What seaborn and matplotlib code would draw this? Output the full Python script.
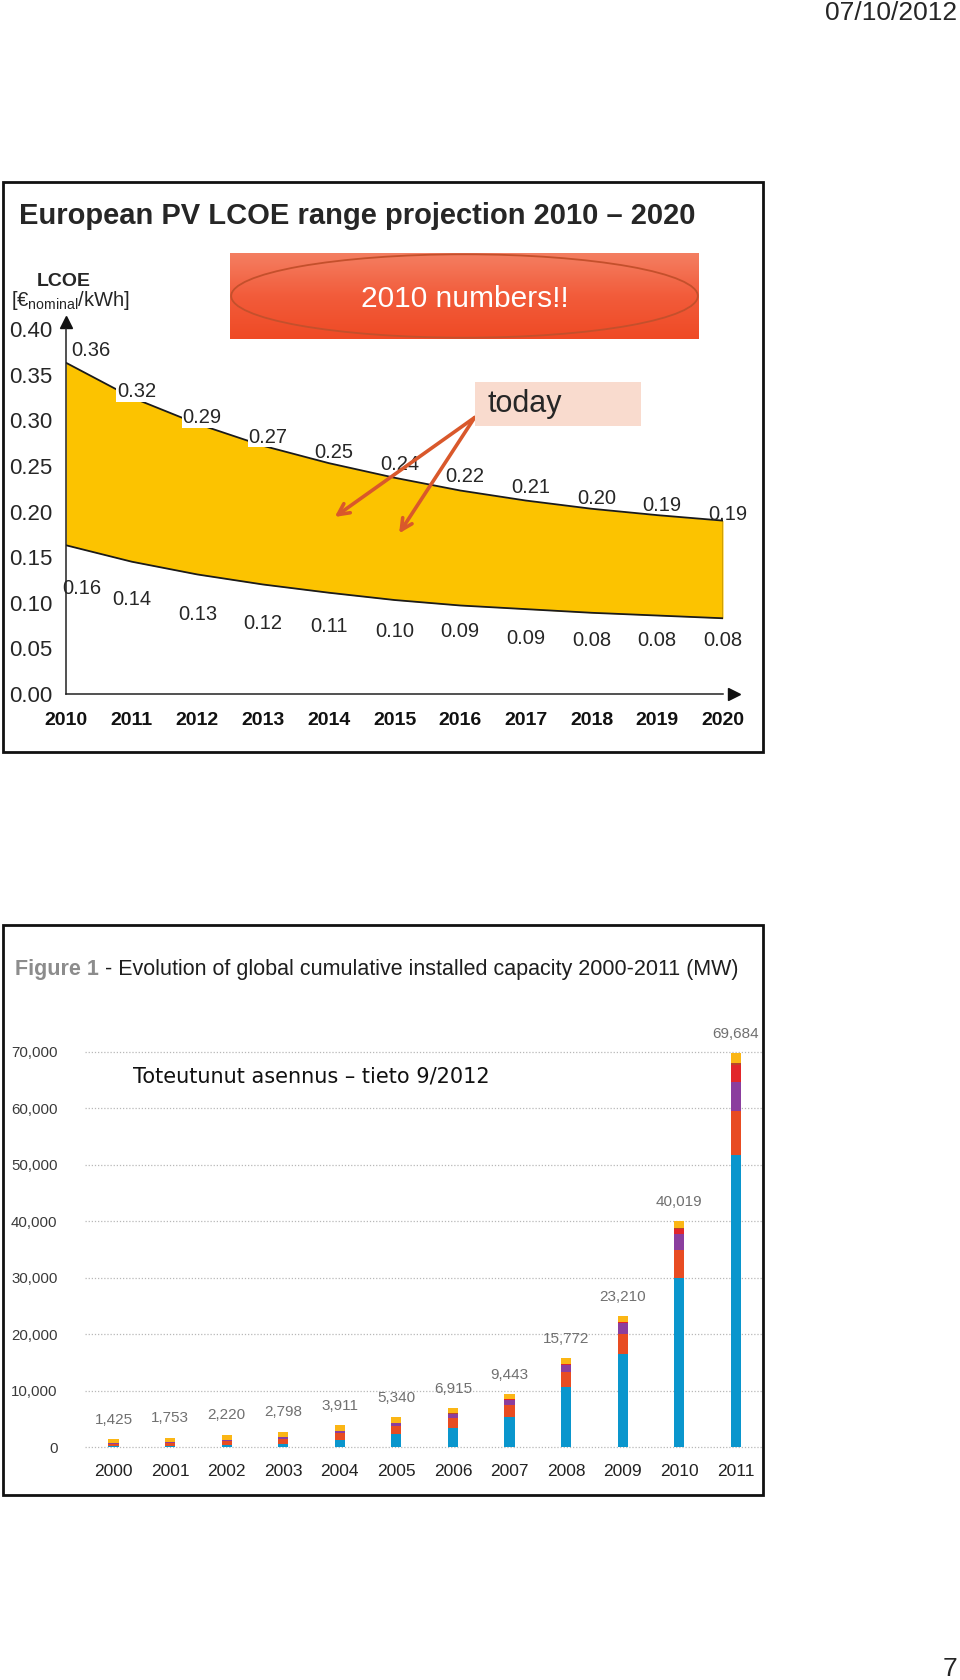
import numpy as np
import pandas as pd
import seaborn as sns
import matplotlib.pyplot as plt
from matplotlib.patches import Rectangle, Ellipse
from matplotlib.colors import LinearSegmentedColormap

# top chart: LCOE range (EUR nominal / kWh)
years = list(range(2010, 2021))
lcoe_high = [0.363, 0.325, 0.296, 0.272, 0.253, 0.237, 0.223, 0.212, 0.203, 0.196, 0.190]
lcoe_low = [0.163, 0.145, 0.131, 0.120, 0.111, 0.103, 0.097, 0.093, 0.089, 0.086, 0.083]
high_labels = ["0.36", "0.32", "0.29", "0.27", "0.25", "0.24", "0.22", "0.21", "0.20", "0.19", "0.19"]
low_labels = ["0.16", "0.14", "0.13", "0.12", "0.11", "0.10", "0.09", "0.09", "0.08", "0.08", "0.08"]
lcoe_ticks = [0.00, 0.05, 0.10, 0.15, 0.20, 0.25, 0.30, 0.35, 0.40]

# label offsets in points (placement only)
high_dy = [8.5, 4, 4.6, 6.2, 7.7, 9.3, 10, 9.3, 7.7, 7, 4.6]
low_dy = [-31, -27, -29, -28, -24, -23, -19, -21, -20, -18, -16]

# bottom chart: global cumulative installed capacity (MW)
cap_years = [str(y) for y in range(2000, 2012)]
europe = [180, 265, 400, 600, 1300, 2300, 3370, 5330, 10770, 16600, 29950, 51716]
apac = [400, 480, 660, 900, 1180, 1450, 1840, 2130, 2600, 3400, 5020, 7765]
americas = [150, 180, 230, 290, 380, 580, 710, 940, 1230, 1950, 2830, 5053]
china = [20, 25, 40, 50, 60, 70, 80, 100, 150, 300, 893, 3093]
mea = [5, 5, 10, 10, 10, 10, 15, 20, 20, 20, 30, 405]
row = [670, 798, 880, 948, 981, 930, 900, 923, 1002, 940, 1296, 1652]
cap_ticks = [0, 10000, 20000, 30000, 40000, 50000, 60000, 70000]

segments = ["Europe", "APAC", "Americas", "China", "MEA", "ROW"]
seg_colors = ["#0a96cd", "#e84c22", "#8b3e9e", "#e2262b", "#b8452a", "#fbb615"]

sns.set_style("white")
plt.rcParams['font.family'] = ['Liberation Sans', 'DejaVu Sans']
plt.rcParams['mathtext.fontset'] = 'custom'
plt.rcParams['mathtext.rm'] = 'Liberation Sans'

W, H = 960, 1680
fig = plt.figure(figsize=(W / 100, H / 100), dpi=100)


def fig_box(x0, y0, x1, y1):
    # pixel box (from top left) -> figure fractions
    return [x0 / W, 1 - y1 / H, (x1 - x0) / W, (y1 - y0) / H]


def frame(x0, y0, x1, y1):
    fig.patches.append(Rectangle((x0 / W, 1 - y1 / H), (x1 - x0) / W, (y1 - y0) / H,
                                 transform=fig.transFigure, fill=False, ec='#111111', lw=2))


# page header / footer
fig.text(957 / W, 1 - 13 / H, "07/10/2012", ha='right', va='center', fontsize=19)
fig.text(957 / W, 1 - 1669 / H, "7", ha='right', va='center', fontsize=19)

# ---------------- top panel ----------------
frame(3, 182, 763, 752)
fig.text(19 / W, 1 - 216 / H, "European PV LCOE range projection 2010 \u2013 2020",
         ha='left', va='center', fontsize=21, fontweight='bold')
fig.text(64 / W, 1 - 281 / H, "LCOE", ha='center', va='center', fontsize=14, fontweight='bold')
fig.text(11 / W, 1 - 301 / H, "[\u20ac$_{\\rm nominal}$/kWh]", ha='left', va='center', fontsize=14.5)

ax = fig.add_axes(fig_box(66, 329, 723, 694))
ax.fill_between(years, lcoe_low, lcoe_high, color='#fcc300', lw=0)
sns.lineplot(x=years, y=lcoe_high, color='#1a1a1a', lw=1.3, ax=ax)
sns.lineplot(x=years, y=lcoe_low, color='#1a1a1a', lw=1.3, ax=ax)
ax.vlines(years[-1], lcoe_low[-1], lcoe_high[-1], color='#1a1a1a', lw=1.0)
ax.set_xlim(years[0], years[-1])
ax.set_ylim(0, 0.40)
ax.set_xticks(years)
ax.set_xticklabels([str(y) for y in years], fontweight='bold', fontsize=14)
ax.set_yticks(lcoe_ticks)
ax.set_yticklabels([f"{t:.2f}" for t in lcoe_ticks], fontsize=16)
ax.tick_params(axis='x', length=6, width=1, direction='out', pad=7, colors='#111111')
ax.tick_params(axis='y', length=0, pad=10)
for s in ['top', 'right']:
    ax.spines[s].set_visible(False)
for s in ['left', 'bottom']:
    ax.spines[s].set_color('#222222')
    ax.spines[s].set_linewidth(1.1)
ax.plot(1.017, 0, '>', color='#111111', ms=9, transform=ax.transAxes, clip_on=False)
ax.plot(0, 1.02, '^', color='#111111', ms=9, transform=ax.transAxes, clip_on=False)

for i, (yr, v, lab) in enumerate(zip(years, lcoe_high, high_labels)):
    dx = 18 if i == 0 else 3.5
    box = dict(facecolor='white', edgecolor='none', pad=0.5) if i in (1, 2, 3) else None
    ax.annotate(lab, (yr, v), xytext=(dx, high_dy[i]), textcoords='offset points',
                ha='center', va='center', fontsize=14.5, bbox=box, annotation_clip=False)
for i, (yr, v, lab) in enumerate(zip(years, lcoe_low, low_labels)):
    if i == 0:
        ax.annotate(lab, (yr, v), xytext=(-3, low_dy[i]), textcoords='offset points',
                    ha='left', va='center', fontsize=14.5)
    else:
        ax.annotate(lab, (yr, v), xytext=(0, low_dy[i]), textcoords='offset points',
                    ha='center', va='center', fontsize=14.5, annotation_clip=False)

# "today" arrows
for tip in [(2014.09, 0.194), (2015.07, 0.176)]:
    ax.annotate('', xy=tip, xytext=(2016.22, 0.303),
                arrowprops=dict(arrowstyle='->', color='#d9582b', lw=2.6,
                                shrinkA=0, shrinkB=0, mutation_scale=20))

# "2010 numbers!!" banner
gax = fig.add_axes(fig_box(230, 253, 699, 339))
grad = LinearSegmentedColormap.from_list('banner', ['#f47f62', '#f25c3b', '#ef4a25'])
gax.imshow(np.linspace(0, 1, 64).reshape(-1, 1), aspect='auto', cmap=grad, extent=(0, 1, 0, 1))
gax.add_patch(Ellipse((0.5, 0.5), 0.995, 0.97, transform=gax.transAxes, fill=False,
                      ec='#c4502c', lw=1.3))
gax.text(0.5, 0.47, "2010 numbers!!", color='white', ha='center', va='center',
         fontsize=21.5, transform=gax.transAxes)
gax.axis('off')

# "today" box
fig.patches.append(Rectangle((475 / W, 1 - 426 / H), 166 / W, 44 / H,
                             transform=fig.transFigure, fc='#f9dbce', ec='none'))
fig.text(487 / W, 1 - 404 / H, "today", ha='left', va='center', fontsize=22)

# ---------------- bottom panel ----------------
frame(3, 925, 763, 1495)

ax2 = fig.add_axes(fig_box(85.3, 1045.9, 764, 1450.3))
df = pd.DataFrame({"year": cap_years, "Europe": europe, "APAC": apac, "Americas": americas,
                   "China": china, "MEA": mea, "ROW": row})
cum = df[segments].cumsum(axis=1)
totals = cum["ROW"]
# stacked bars: draw cumulative sums from the top segment down
for seg, col in reversed(list(zip(segments, seg_colors))):
    sns.barplot(x=df["year"], y=cum[seg], color=col, width=0.18, saturation=1,
                errorbar=None, linewidth=0, ax=ax2)
ax2.set_xlim(-0.5, len(cap_years) - 0.5)
ax2.set_ylim(-500, 71000)
ax2.set_yticks(cap_ticks)
ax2.set_yticklabels([f"{t:,}" for t in cap_ticks], fontsize=10.8, color='#3a3a3a')
ax2.set_xticks(range(len(cap_years)))
ax2.set_xticklabels(cap_years, fontsize=12.5, color='#222222')
ax2.tick_params(axis='y', length=16, width=1.3, color='#b5b5b5', pad=4)
ax2.tick_params(axis='x', length=0, pad=10)
ax2.set_xlabel("")
ax2.set_ylabel("")
ax2.grid(axis='y', color='#b8b8b8', lw=0.9, linestyle=(0, (1, 1.5)))
ax2.set_axisbelow(True)
for s in ax2.spines.values():
    s.set_visible(False)

for i, t in enumerate(totals):
    ax2.annotate(f"{t:,}", (i, t), xytext=(0, 14), textcoords='offset points',
                 ha='center', va='center', fontsize=11, color='#707070',
                 annotation_clip=False)

t1 = fig.text(15 / W, 1 - 970 / H, "Figure 1", ha='left', va='center',
              fontsize=15.5, fontweight='bold', color='#8c8c8c')
ax2.annotate(" - Evolution of global cumulative installed capacity 2000-2011 (MW)",
             xy=(1, 0.5), xycoords=t1, ha='left', va='center',
             fontsize=15.5, color='#1e1e1e', annotation_clip=False)
fig.text(133 / W, 1 - 1077 / H, "Toteutunut asennus \u2013 tieto 9/2012", ha='left', va='center',
         family=['DejaVu Sans'], fontsize=15, color='#111111')

fig.savefig("out.png", dpi=100)
